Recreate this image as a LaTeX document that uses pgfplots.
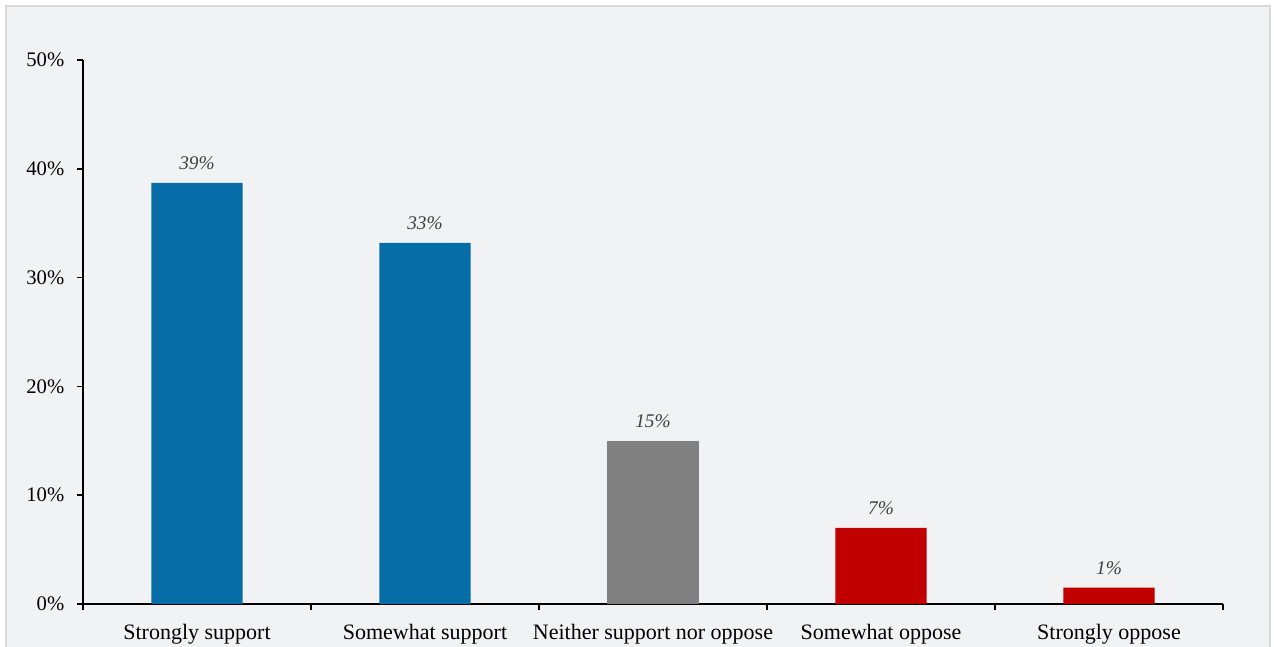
\documentclass[border=0pt]{standalone}
\usepackage{pgfplots}
\pgfplotsset{compat=1.18}
\usepackage{fontspec}
\setmainfont{Liberation Serif}
\definecolor{bg}{HTML}{F1F2F4}
\definecolor{bordercol}{HTML}{DADADA}
\definecolor{cblue}{HTML}{066DA7}
\definecolor{cgray}{HTML}{808080}
\definecolor{cred}{HTML}{C00000}
\definecolor{labgray}{HTML}{404040}
\begin{document}
\begin{tikzpicture}
\useasboundingbox (0,0) rectangle (955.5pt,484.5pt);
\fill[white] (0,0) rectangle (955.5pt,484.5pt);
\filldraw[fill=bg, draw=bordercol, line width=1.5pt] (4.5pt,-3pt) rectangle (952.5pt,480pt);
\begin{axis}[
  at={(62.25pt,31.5pt)}, anchor=south west,
  scale only axis, width=855pt, height=408pt,
  xmin=-0.5, xmax=4.5, ymin=0, ymax=50,
  axis x line*=bottom, axis y line*=left,
  axis line style={black, line width=1.1pt},
  ytick={0,10,20,30,40,50},
  yticklabel={\pgfmathprintnumber[assume math mode=true]{\tick}\%},
  xtick={-0.5,0.5,1.5,2.5,3.5,4.5},
  xticklabels={,,,,,},
  extra x ticks={0,1,2,3,4},
  extra x tick labels={Strongly support,Somewhat support,Neither support nor oppose,Somewhat oppose,Strongly oppose},
  extra x tick style={major tick length=0pt},
  tick align=outside, major tick length=4.5pt,
  tick style={black, line width=1.1pt},
  x tick label style={font=\fontsize{16.5}{18}\selectfont, yshift=-11.5pt},
  y tick label style={font=\fontsize{15.5}{17}\selectfont, xshift=-6pt},
  ybar, bar width=0.4, bar shift=0pt,
  nodes near coords, point meta=explicit symbolic,
  every node near coord/.append style={font=\itshape\fontsize{14.5}{16}\selectfont, text=labgray, yshift=6.5pt},
  clip=false,
]
\addplot[fill=cblue, draw=none] coordinates {(0,38.7) [39\%] (1,33.2) [33\%]};
\addplot[fill=cgray, draw=none] coordinates {(2,15.0) [15\%]};
\addplot[fill=cred, draw=none] coordinates {(3,7.0) [7\%] (4,1.5) [1\%]};
\end{axis}
\end{tikzpicture}
\end{document}
